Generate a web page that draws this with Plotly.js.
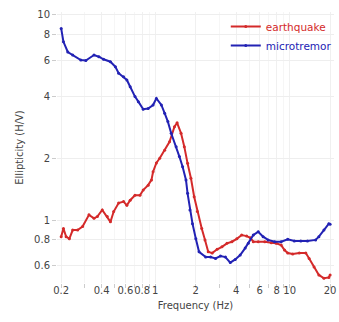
<!DOCTYPE html>
<html>
<head>
<meta charset="utf-8">
<script src="https://cdn.plot.ly/plotly-3.0.1.min.js"></script>
<style>html,body{margin:0;padding:0;background:#fff;}#chart{width:339px;height:322px;}</style>
</head>
<body>
<div id="chart"></div>
<script>
// earthquake H/V ellipticity
const eqFreq = [0.2, 0.208, 0.2176, 0.230, 0.2436, 0.265, 0.2885, 0.322, 0.351, 0.3716, 0.404, 0.440, 0.465, 0.4917, 0.535, 0.582, 0.616, 0.652, 0.708, 0.771, 0.815, 0.887, 0.939, 0.965, 1.021, 1.081, 1.176, 1.279, 1.392, 1.456, 1.558, 1.647, 1.742, 1.845, 1.95, 2.06, 2.22, 2.348, 2.48, 2.655, 2.89, 3.14, 3.42, 3.72, 4.05, 4.40, 4.79, 5.10, 5.37, 5.84, 6.54, 7.31, 7.94, 8.65, 9.16, 9.68, 10.54, 11.8, 13.19, 13.97, 15.2, 16.5, 17.99, 19.57, 20];
const eqHV = [0.83, 0.91, 0.83, 0.81, 0.894, 0.894, 0.93, 1.06, 1.02, 1.04, 1.12, 1.04, 0.98, 1.10, 1.21, 1.23, 1.18, 1.25, 1.32, 1.32, 1.40, 1.48, 1.57, 1.72, 1.9, 2.0, 2.19, 2.41, 2.85, 2.98, 2.65, 2.28, 1.89, 1.6, 1.30, 1.10, 0.91, 0.80, 0.70, 0.69, 0.72, 0.74, 0.77, 0.784, 0.81, 0.845, 0.835, 0.82, 0.784, 0.784, 0.784, 0.775, 0.77, 0.755, 0.714, 0.69, 0.683, 0.69, 0.69, 0.65, 0.59, 0.54, 0.52, 0.525, 0.54];

// microtremor H/V ellipticity
const mtFreq = [0.2, 0.208, 0.224, 0.2436, 0.280, 0.305, 0.351, 0.3816, 0.413, 0.465, 0.506, 0.535, 0.582, 0.616, 0.652, 0.708, 0.750, 0.815, 0.887, 0.965, 1.021, 1.112, 1.176, 1.243, 1.316, 1.432, 1.514, 1.6, 1.695, 1.742, 1.814, 1.895, 2.007, 2.12, 2.375, 2.583, 2.812, 3.06, 3.33, 3.62, 3.94, 4.29, 4.67, 4.93, 5.37, 5.84, 6.35, 6.91, 7.74, 8.65, 9.68, 10.84, 12.11, 13.57, 15.6, 16.5, 17.99, 19.57, 20];
const mtHV = [8.6, 7.4, 6.6, 6.38, 6.03, 6.0, 6.38, 6.26, 6.08, 5.92, 5.59, 5.2, 5.0, 4.82, 4.47, 4.0, 3.78, 3.47, 3.5, 3.64, 3.92, 3.64, 3.32, 3.02, 2.65, 2.28, 2.04, 1.82, 1.57, 1.35, 1.12, 0.96, 0.81, 0.70, 0.66, 0.66, 0.65, 0.667, 0.66, 0.62, 0.643, 0.675, 0.73, 0.77, 0.845, 0.877, 0.83, 0.80, 0.784, 0.784, 0.805, 0.79, 0.79, 0.79, 0.80, 0.83, 0.894, 0.96, 0.955];

const xTickVals = [0.2, 0.4, 0.6, 0.8, 1, 2, 4, 6, 8, 10, 20];
const xTickText = ['0.2', '0.4', '0.6', '0.8', '1', '2', '4', '6', '8', '10', '20'];
const yTickVals = [0.6, 0.8, 1, 2, 4, 6, 8, 10];
const yTickText = ['0.6', '0.8', '1', '2', '4', '6', '8', '10'];

const RED = '#d42a2a';
const BLUE = '#2222b4';

const traces = [
  {x: eqFreq, y: eqHV, type: 'scatter', mode: 'lines+markers',
   name: '<span style="color:' + RED + '">earthquake</span>',
   line: {color: RED, width: 2}, marker: {color: RED, size: 3}},
  {x: mtFreq, y: mtHV, type: 'scatter', mode: 'lines+markers',
   name: '<span style="color:' + BLUE + '">microtremor</span>',
   line: {color: BLUE, width: 2}, marker: {color: BLUE, size: 3}}
];

const layout = {
  width: 339, height: 322,
  margin: {l: 57, r: 2, t: 12, b: 39},
  paper_bgcolor: '#fff', plot_bgcolor: '#fff',
  font: {family: 'DejaVu Sans, sans-serif', size: 10, color: '#444'},
  showlegend: true,
  legend: {x: 1.01, xanchor: 'right', y: 1.0, yanchor: 'top', bgcolor: 'rgba(255,255,255,0)',
           font: {size: 10.5}, tracegroupgap: 0},
  xaxis: {
    type: 'log', range: [-0.73, 1.33],
    tickvals: xTickVals, ticktext: xTickText, tickangle: 0,
    ticks: '', showline: false, zeroline: false,
    gridcolor: '#f0f0f0', gridwidth: 1,
    tickfont: {size: 10, color: '#444'},
    minor: {ticks: 'outside', ticklen: 4, tickcolor: '#ccc', showgrid: true, gridcolor: '#f6f6f6', dtick: 'D1'},
    title: {text: 'Frequency (Hz)', font: {size: 10, color: '#444'}, standoff: 6}
  },
  yaxis: {
    type: 'log', range: [-0.307, 1.0146],
    tickvals: yTickVals, ticktext: yTickText,
    ticks: 'outside', ticklen: 4, tickcolor: '#ccc',
    showline: false, zeroline: false,
    gridcolor: '#eeeeee', gridwidth: 1,
    tickfont: {size: 10, color: '#444'},
    title: {text: 'Ellipticity (H/V)', font: {size: 10, color: '#444'}, standoff: 8}
  }
};

Plotly.newPlot('chart', traces, layout, {displayModeBar: false, staticPlot: true});
</script>
</body>
</html>
